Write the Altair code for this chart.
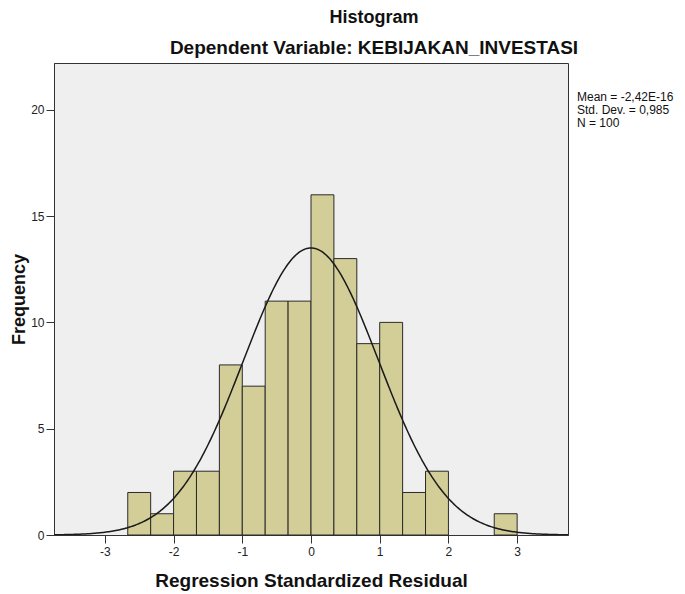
import altair as alt
import pandas as pd

# Histogram bins (lower edges, width 1/3) and frequencies
bin_lo = [-8/3, -7/3, -2, -5/3, -4/3, -1, -2/3, -1/3, 0, 1/3, 2/3, 1, 4/3, 5/3, 2, 7/3, 8/3]
counts = [2, 1, 3, 3, 8, 7, 11, 11, 16, 13, 9, 10, 2, 3, 0, 0, 1]
bin_width = 1/3

# Summary statistics shown on the chart
mean_val = -2.42e-16
std_val = 0.985
n_val = 100
stats_lines = ["Mean = -2,42E-16", "Std. Dev. = 0,985", "N = 100"]

x_ticks = [-3, -2, -1, 0, 1, 2, 3]
y_ticks = [0, 5, 10, 15, 20]

FONT = "Liberation Sans"

hist_df = pd.DataFrame({
    "lo": bin_lo,
    "hi": [b + bin_width for b in bin_lo],
    "count": counts,
})
hist_df = hist_df[hist_df["count"] > 0]

xscale = alt.Scale(domain=[-3.74, 3.74], nice=False, zero=False)
yscale = alt.Scale(domain=[0, 22.2], nice=False)

bars = alt.Chart(hist_df).mark_rect(
    fill="#D3CE97", stroke="#2a2a2a", strokeWidth=1
).encode(
    x=alt.X("lo:Q", scale=xscale,
            axis=alt.Axis(values=x_ticks, title="Regression Standardized Residual",
                          labelExpr="'' + datum.value",
                          grid=False, tickSize=8, labelPadding=3,
                          titlePadding=14, domainColor="#333", tickColor="#333",
                          labelColor="#222", titleColor="#111")),
    x2="hi:Q",
    y=alt.Y("count:Q", scale=yscale,
            axis=alt.Axis(values=y_ticks, title="Frequency", grid=False,
                          labelExpr="'' + datum.value",
                          tickSize=8, labelPadding=2, titlePadding=2,
                          titleFontSize=18,
                          domainColor="#333", tickColor="#333",
                          labelColor="#222", titleColor="#111")),
    y2=alt.datum(0),
)

curve = alt.Chart(alt.sequence(-3.74, 3.75, 0.02, as_="z")).transform_calculate(
    freq=f"{n_val}*{bin_width}/({std_val}*sqrt(2*PI))*exp(-0.5*pow((datum.z-({mean_val}))/{std_val},2))"
).mark_line(color="#1a1a1a", strokeWidth=1.5, clip=True).encode(
    x=alt.X("z:Q", scale=xscale),
    y=alt.Y("freq:Q", scale=yscale),
)

stats = alt.Chart(pd.DataFrame({"t": [stats_lines]})).mark_text(
    align="left", baseline="alphabetic", fontSize=12, font=FONT,
    lineHeight=13, color="#111"
).encode(
    x=alt.value(523), y=alt.value(38), text="t"
)

chart = alt.layer(bars, curve, stats).properties(
    width=514, height=472,
    title=alt.TitleParams(
        text="Histogram",
        subtitle="Dependent Variable: KEBIJAKAN_INVESTASI",
        anchor="middle", dx=63, offset=5,
        font=FONT, fontSize=18, fontWeight="bold", color="#111",
        subtitleFont=FONT, subtitleFontSize=19, subtitleFontWeight="bold",
        subtitleColor="#111", subtitlePadding=12,
    ),
    autosize=alt.AutoSizeParams(type="none"),
    padding={"left": 46, "top": 55, "right": 109, "bottom": 57},
).configure_view(
    fill="#EFEFEF", stroke="#333333", strokeWidth=1
).configure_axis(
    labelFont=FONT, labelFontSize=12, titleFont=FONT, titleFontSize=19,
    titleFontWeight="bold"
)

chart.save("out.html", embed_options={"renderer": "svg", "actions": False})
